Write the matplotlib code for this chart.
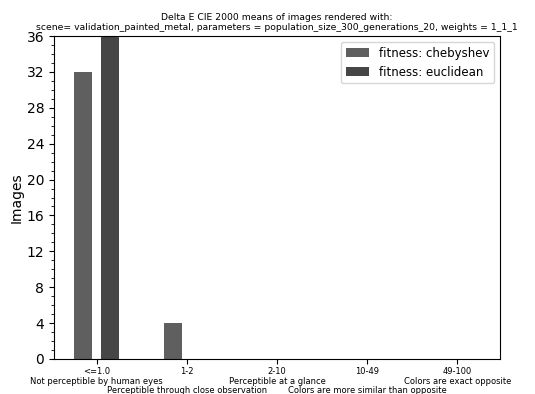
import numpy as np
import matplotlib
matplotlib.use('Agg')
import matplotlib.pyplot as plt
from matplotlib.ticker import MultipleLocator

ranges = ['<=1.0', '1-2', '2-10', '10-49', '49-100']
meanings = ['Not perceptible by human eyes',
            'Perceptible through close observation',
            'Perceptible at a glance',
            'Colors are more similar than opposite',
            'Colors are exact opposite']
chebyshev = [32, 4, 0, 0, 0]
euclidean = [36, 0, 0, 0, 0]

# alternate the description rows so the long texts don't collide
labels = []
for i, (r, m) in enumerate(zip(ranges, meanings)):
    if i % 2 == 0:
        labels.append(r + '\n' + m)
    else:
        labels.append(r + '\n\n' + m)

x = np.arange(len(ranges))
w = 0.2

fig = plt.figure(figsize=(5.35, 3.94), dpi=100)
ax = fig.add_axes([54/535, 35/394, 446/535, 323/394])

ax.bar(x - 0.15, chebyshev, w, color='#5f5f5f', label='fitness: chebyshev')
ax.bar(x + 0.15, euclidean, w, color='#464646', label='fitness: euclidean')

ax.set_ylim(0, max(max(chebyshev), max(euclidean)))
ax.yaxis.set_major_locator(MultipleLocator(4))
ax.yaxis.set_minor_locator(MultipleLocator(1))
ax.set_xticks(x)
ax.set_xticklabels(labels, fontsize=6.0, linespacing=1.05)
ax.tick_params(axis='x', pad=2.5)
ax.tick_params(axis='y', labelsize=10)
ax.set_ylabel('Images', fontsize=10, labelpad=2)
ax.set_title('Delta E CIE 2000 means of images rendered with:\n'
             'scene= validation_painted_metal, parameters = population_size_300_generations_20, weights = 1_1_1',
             fontsize=6.7, pad=4)
ax.legend(loc='upper right', fontsize=8.5)

fig.savefig('out.png', dpi=100)
